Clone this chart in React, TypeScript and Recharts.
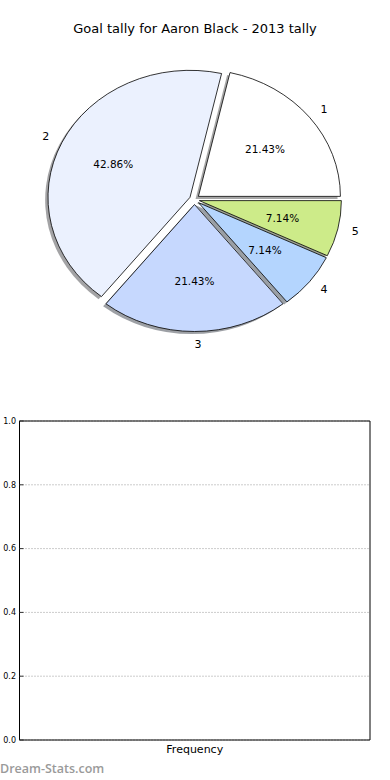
import { PieChart, Pie, Cell, ComposedChart, Bar, XAxis, YAxis, CartesianGrid } from 'recharts'

// goal tally per game-count bucket
const sliceNames = ['1', '2', '3', '4', '5']
const sliceValues = [3, 6, 3, 1, 1]
const sliceColors = ['#ffffff', '#ebf1fe', '#c6d8fe', '#b4d5fe', '#cdeb89']

const freqCategories = ['Frequency']
const freqValues = [0]
const yTicks = [0, 0.2, 0.4, 0.6, 0.8, 1.0]

const pieData = sliceNames.map((name, i) => ({ name, value: sliceValues[i] }))
const freqData = freqCategories.map((name, i) => ({ name, value: freqValues[i] }))

const FONT = '"DejaVu Sans", sans-serif'
const RATIO = 127 / 142 // matplotlib pie without equal aspect -> ellipse
const EXPLODE = 5
const RAD = Math.PI / 180

function wedgePath(cx: number, cy: number, r: number, start: number, end: number) {
  const ry = r * RATIO
  const x1 = cx + r * Math.cos(start * RAD)
  const y1 = cy - ry * Math.sin(start * RAD)
  const x2 = cx + r * Math.cos(end * RAD)
  const y2 = cy - ry * Math.sin(end * RAD)
  const large = Math.abs(end - start) > 180 ? 1 : 0
  return `M${cx},${cy} L${x1},${y1} A${r},${ry} 0 ${large} 0 ${x2},${y2} Z`
}

function shade(hex: string) {
  const n = parseInt(hex.slice(1), 16)
  const r = Math.round(((n >> 16) & 255) * 0.3)
  const g = Math.round(((n >> 8) & 255) * 0.3)
  const b = Math.round((n & 255) * 0.3)
  return `rgb(${r},${g},${b})`
}

function WedgeShape(props: any) {
  const { cx, cy, outerRadius, startAngle, endAngle, midAngle, fill } = props
  const ox = cx + EXPLODE * Math.cos(midAngle * RAD)
  const oy = cy - EXPLODE * Math.sin(midAngle * RAD)
  return (
    <path d={wedgePath(ox, oy, outerRadius, startAngle, endAngle)} fill={fill} stroke="#000" strokeWidth={0.8} strokeLinejoin="round" />
  )
}

function ShadowShape(props: any) {
  const { cx, cy, outerRadius, startAngle, endAngle, midAngle, payload } = props
  const idx = sliceNames.indexOf(payload?.name)
  const base = sliceColors[idx] ?? '#ffffff'
  const ox = cx + EXPLODE * Math.cos(midAngle * RAD) - 0.02 * outerRadius
  const oy = cy - EXPLODE * Math.sin(midAngle * RAD) + 0.02 * outerRadius * RATIO
  return <path d={wedgePath(ox, oy, outerRadius, startAngle, endAngle)} fill={shade(base)} fillOpacity={0.5} stroke="none" />
}

function renderLabel(props: any) {
  const { cx, cy, outerRadius, midAngle, percent, index } = props
  const c = Math.cos(midAngle * RAD)
  const s = Math.sin(midAngle * RAD)
  const ox = cx + EXPLODE * c
  const oy = cy - EXPLODE * s
  const ry = outerRadius * RATIO
  const lx = ox + 1.1 * outerRadius * c
  const ly = oy - 1.1 * ry * s
  const px = ox + 0.6 * outerRadius * c
  const py = oy - 0.6 * ry * s
  const anchor = Math.round(c * 1e6) >= 0 ? 'start' : 'end'
  return (
    <g key={`lbl-${index}`}>
      <text x={lx} y={ly} textAnchor={anchor} dominantBaseline="central" fontSize={11} fontFamily={FONT} fill="#000">
        {sliceNames[index]}
      </text>
      <text x={px} y={py} textAnchor="middle" dominantBaseline="central" fontSize={10.5} fontFamily={FONT} fill="#000">
        {`${(percent * 100).toFixed(2)}%`}
      </text>
    </g>
  )
}

export default function App() {
  return (
    <div style={{ position: 'absolute', left: 0, top: 0, width: 390, height: 780, background: '#fff', fontFamily: FONT }}>
      <div style={{ position: 'absolute', left: 0, top: 21, width: 390, textAlign: 'center', fontSize: 13, lineHeight: '16px', color: '#000' }}>
        Goal tally for Aaron Black - 2013 tally
      </div>

      <div style={{ position: 'absolute', left: 0, top: 0 }}>
        <PieChart width={390} height={370} margin={{ top: 0, right: 0, bottom: 0, left: 0 }}>
          <Pie
            data={pieData}
            dataKey="value"
            nameKey="name"
            cx={194.5}
            cy={199.5}
            outerRadius={142}
            startAngle={0}
            endAngle={360}
            stroke="none"
            shape={<ShadowShape />}
            inactiveShape={<ShadowShape />}
            activeShape={<ShadowShape />}
            label={false}
            labelLine={false}
            isAnimationActive={false}
          >
            {pieData.map((_d, i) => (
              <Cell key={i} fill={sliceColors[i]} />
            ))}
          </Pie>
          <Pie
            data={pieData}
            dataKey="value"
            nameKey="name"
            cx={194.5}
            cy={199.5}
            outerRadius={142}
            startAngle={0}
            endAngle={360}
            stroke="#000"
            shape={<WedgeShape />}
            inactiveShape={<WedgeShape />}
            activeShape={<WedgeShape />}
            label={renderLabel}
            labelLine={false}
            isAnimationActive={false}
          >
            {pieData.map((_d, i) => (
              <Cell key={i} fill={sliceColors[i]} />
            ))}
          </Pie>
        </PieChart>
      </div>

      <div style={{ position: 'absolute', left: 0, top: 400 }}>
        <ComposedChart width={390} height={380} data={freqData} margin={{ top: 20, right: 19, bottom: 0, left: 0 }}>
          <CartesianGrid vertical={false} stroke="#999" strokeDasharray="1 2" />
          <XAxis
            dataKey="name"
            height={40}
            axisLine={{ stroke: '#000' }}
            tickLine={false}
            tickSize={0}
            tickMargin={5}
            interval={0}
            tick={{ fontSize: 11, fill: '#000', fontFamily: FONT }}
          />
          <XAxis xAxisId="top" dataKey="name" orientation="top" height={1} axisLine={{ stroke: '#000' }} tick={false} tickLine={false} />
          <YAxis
            domain={[0, 1]}
            ticks={yTicks}
            width={19.5}
            axisLine={{ stroke: '#000' }}
            tickLine={{ stroke: '#333' }}
            tickSize={-4}
            tickMargin={7.5}
            tickFormatter={(v: number) => v.toFixed(1)}
            tick={{ fontSize: 8, fill: '#000', fontFamily: FONT }}
          />
          <YAxis
            yAxisId="right"
            orientation="right"
            domain={[0, 1]}
            ticks={yTicks}
            width={1}
            axisLine={{ stroke: '#000' }}
            tickLine={{ stroke: '#333' }}
            tickSize={-4}
            tick={false}
          />
          <Bar dataKey="value" fill="#c6d8fe" isAnimationActive={false} />
          <Bar dataKey="value" xAxisId="top" yAxisId="right" fill="#c6d8fe" isAnimationActive={false} />
        </ComposedChart>
      </div>

      <div style={{ position: 'absolute', left: 0, top: 761, fontFamily: '"Open Sans", sans-serif', fontSize: 12.5, lineHeight: '16px', fontWeight: 600, color: '#9a9a9a' }}>
        Dream-Stats.com
      </div>
    </div>
  )
}
